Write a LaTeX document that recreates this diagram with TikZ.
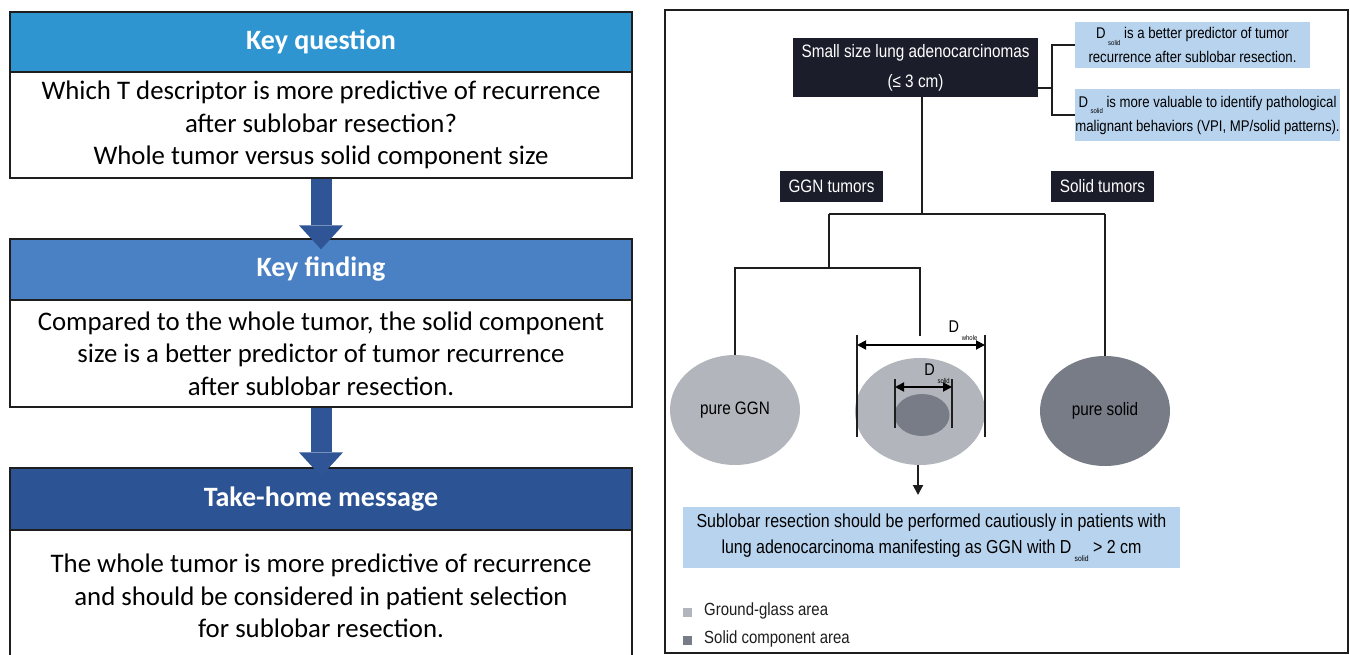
\documentclass[tikz,border=0pt]{standalone}
\usepackage{fontspec}
\setmainfont{Liberation Sans}
\newfontfamily\carlito{Carlito}
\newfontfamily\narrowsans[FakeStretch=0.85]{Liberation Sans}
\usetikzlibrary{shapes.geometric,arrows.meta,calc}
\definecolor{hdrA}{HTML}{2E95D1}
\definecolor{hdrB}{HTML}{4A81C4}
\definecolor{hdrC}{HTML}{2C5494}
\definecolor{arrblue}{HTML}{2F5597}
\definecolor{darkfill}{HTML}{1B1D2B}
\definecolor{lightblue}{HTML}{B8D3EE}
\definecolor{ggray}{HTML}{B2B6BC}
\definecolor{sgray}{HTML}{777C87}
\definecolor{linec}{HTML}{1E1E1E}
\newcommand{\Dsub}[2][7]{D\,\raisebox{-0.45em}{\fontsize{#1}{#1}\selectfont #2}}
\begin{document}
\begin{tikzpicture}[x=1pt,y=-1pt,
  hdrbox/.style={draw=linec, line width=1.3pt, minimum width=622pt, inner sep=0pt,
    text=white, font={\carlito\bfseries\fontsize{28}{32}\selectfont}},
  bodybox/.style={draw=linec, line width=1.3pt, fill=white, minimum width=622pt, inner sep=0pt,
    align=center, text=black, font={\carlito\fontsize{26.8}{32.5}\selectfont}},
  bigarrow/.style={draw=arrblue, line width=21pt, -{Triangle[width=44pt,length=24pt,line width=0pt]}},
  darkbox/.style={fill=darkfill, inner sep=0pt, align=center, text=white,
    font={\narrowsans\fontsize{18}{30}\selectfont}},
  lbbox/.style={fill=lightblue, inner sep=0pt, align=center, text=black,
    font={\narrowsans\fontsize{15.5}{24}\selectfont}},
  ell/.style={ellipse, inner sep=0pt, text=black, font={\narrowsans\fontsize{18}{20}\selectfont}},
  conn/.style={draw=linec, line width=1.5pt},
  tickln/.style={draw=linec, line width=1.3pt},
  dimarrow/.style={draw=black, line width=1.8pt, {Triangle[width=9pt,length=9pt]}-{Triangle[width=9pt,length=9pt]}},
  lbl/.style={inner sep=0pt, text=black, font={\narrowsans\fontsize{17}{18}\selectfont}},
  sq/.style={minimum size=9pt, inner sep=0pt},
  legtext/.style={inner sep=0pt, anchor=west, text=linec, font={\narrowsans\fontsize{17.6}{20}\selectfont}}
]
\useasboundingbox (0,0) rectangle (1350,655);
\fill[white] (0,0) rectangle (1350,655);

% ---------------- left panel ----------------
\node[bodybox, minimum height=106pt] (b1) at (321,125)
  {Which T descriptor is more predictive of recurrence\\after sublobar resection?\\Whole tumor versus solid component size};
\node[hdrbox, fill=hdrA, minimum height=60pt] (h1) at (321,42) {Key question};
\node[bodybox, minimum height=107pt] (b2) at (321,353.5)
  {Compared to the whole tumor, the solid component\\size is a better predictor of tumor recurrence\\after sublobar resection.};
\node[hdrbox, fill=hdrB, minimum height=61pt] (h2) at (321,269.5) {Key finding};
\node[bodybox, minimum height=132pt] (b3) at (321,596)
  {The whole tumor is more predictive of recurrence\\and should be considered in patient selection\\for sublobar resection.};
\node[hdrbox, fill=hdrC, minimum height=62pt] (h3) at (321,499) {Take-home message};
\draw[bigarrow] (b1.south) -- ($(h2.north)+(0,11)$);
\draw[bigarrow] (b2.south) -- ($(h3.north)+(0,9)$);

% ---------------- right panel ----------------
\draw[draw=linec, line width=1.5pt] (665,10) rectangle (1348,653);

\node[darkbox, minimum width=245pt, minimum height=59pt] (tb) at (915.5,67.5)
  {Small size lung adenocarcinomas\\(≤ 3 cm)};
\node[lbbox, minimum width=235pt, minimum height=46pt] (r1) at (1192.5,45)
  {\Dsub{solid} is a better predictor of tumor\\recurrence after sublobar resection.};
\node[lbbox, minimum width=265pt, minimum height=52pt] (r2) at (1207.5,115)
  {\Dsub{solid} is more valuable to identify pathological\\malignant behaviors (VPI, MP/solid patterns).};

\coordinate (bk) at (1052,88);
\draw[conn] (tb.east |- bk) -- (bk);
\draw[conn] (r1.west) -| (bk) |- (r2.west);

\node[darkbox, minimum width=103pt, minimum height=31pt] (ggnt) at (831.5,186.5) {GGN tumors};
\node[darkbox, minimum width=103pt, minimum height=31pt] (solt) at (1102.5,186.5) {Solid tumors};

\node[ell, fill=ggray, minimum width=130pt, minimum height=110pt] (e1) at (735,410) {pure GGN};
\node[ell, fill=ggray, minimum width=130pt, minimum height=107pt] (e2) at (920,411.5) {};
\node[ell, fill=sgray, minimum width=55pt, minimum height=42pt] (e2i) at (922,415) {};
\node[ell, fill=sgray, minimum width=130pt, minimum height=110pt] (e3) at (1105,411) {pure solid};

\coordinate (j1) at (922,214);
\coordinate (jl) at (829,214);
\coordinate (jr) at (1105,214);
\coordinate (jll) at (829,268);
\coordinate (jm) at (920,268);
\coordinate (jmend) at (920,336);
\draw[conn] (tb.south -| j1) -- (j1);
\draw[conn] (jl) -- (jr);
\draw[conn] (jl) -- (jll);
\draw[conn] (e1.north) -- (e1.north |- jll) -- (jm) -- (jmend);
\draw[conn] (jr) -- (e3.north);

% dimension D whole
\coordinate (wl) at (857,345);
\coordinate (wr) at (985,345);
\draw[tickln] ($(wl)+(0,-10)$) -- ($(wl)+(0,92)$);
\draw[tickln] ($(wr)+(0,-10)$) -- ($(wr)+(0,92)$);
\draw[dimarrow] (wl) -- (wr);
\node[lbl] (dwl) at (963,331) {\Dsub{whole}};

% dimension D solid
\coordinate (sl) at (895,387);
\coordinate (sr) at (952,387);
\draw[tickln] ($(sl)+(0,-8)$) -- ($(sl)+(0,41)$);
\draw[tickln] ($(sr)+(0,-8)$) -- ($(sr)+(0,41)$);
\draw[dimarrow] (sl) -- (sr);
\node[lbl] (dsl) at (937,374) {\Dsub{solid}};

% arrow down to conclusion
\coordinate (ax) at (918,495);
\draw[conn, line width=2pt, -{Triangle[width=10pt,length=10pt]}] (e2.south -| ax) -- (ax);

\node[lbbox, minimum width=497pt, minimum height=61pt, font={\narrowsans\fontsize{18.8}{26}\selectfont}] (bb) at (931.5,537.5)
  {Sublobar resection should be performed cautiously in patients with\\lung adenocarcinoma manifesting as GGN with \Dsub[8]{solid} > 2 cm};

% legend
\node[sq, fill=ggray] (lg1) at (687.5,612.5) {};
\node[sq, fill=sgray] (lg2) at (687.5,640.5) {};
\node[legtext] (lt1) at (704,611) {Ground-glass area};
\node[legtext] (lt2) at (704,639) {Solid component area};
\end{tikzpicture}
\end{document}
